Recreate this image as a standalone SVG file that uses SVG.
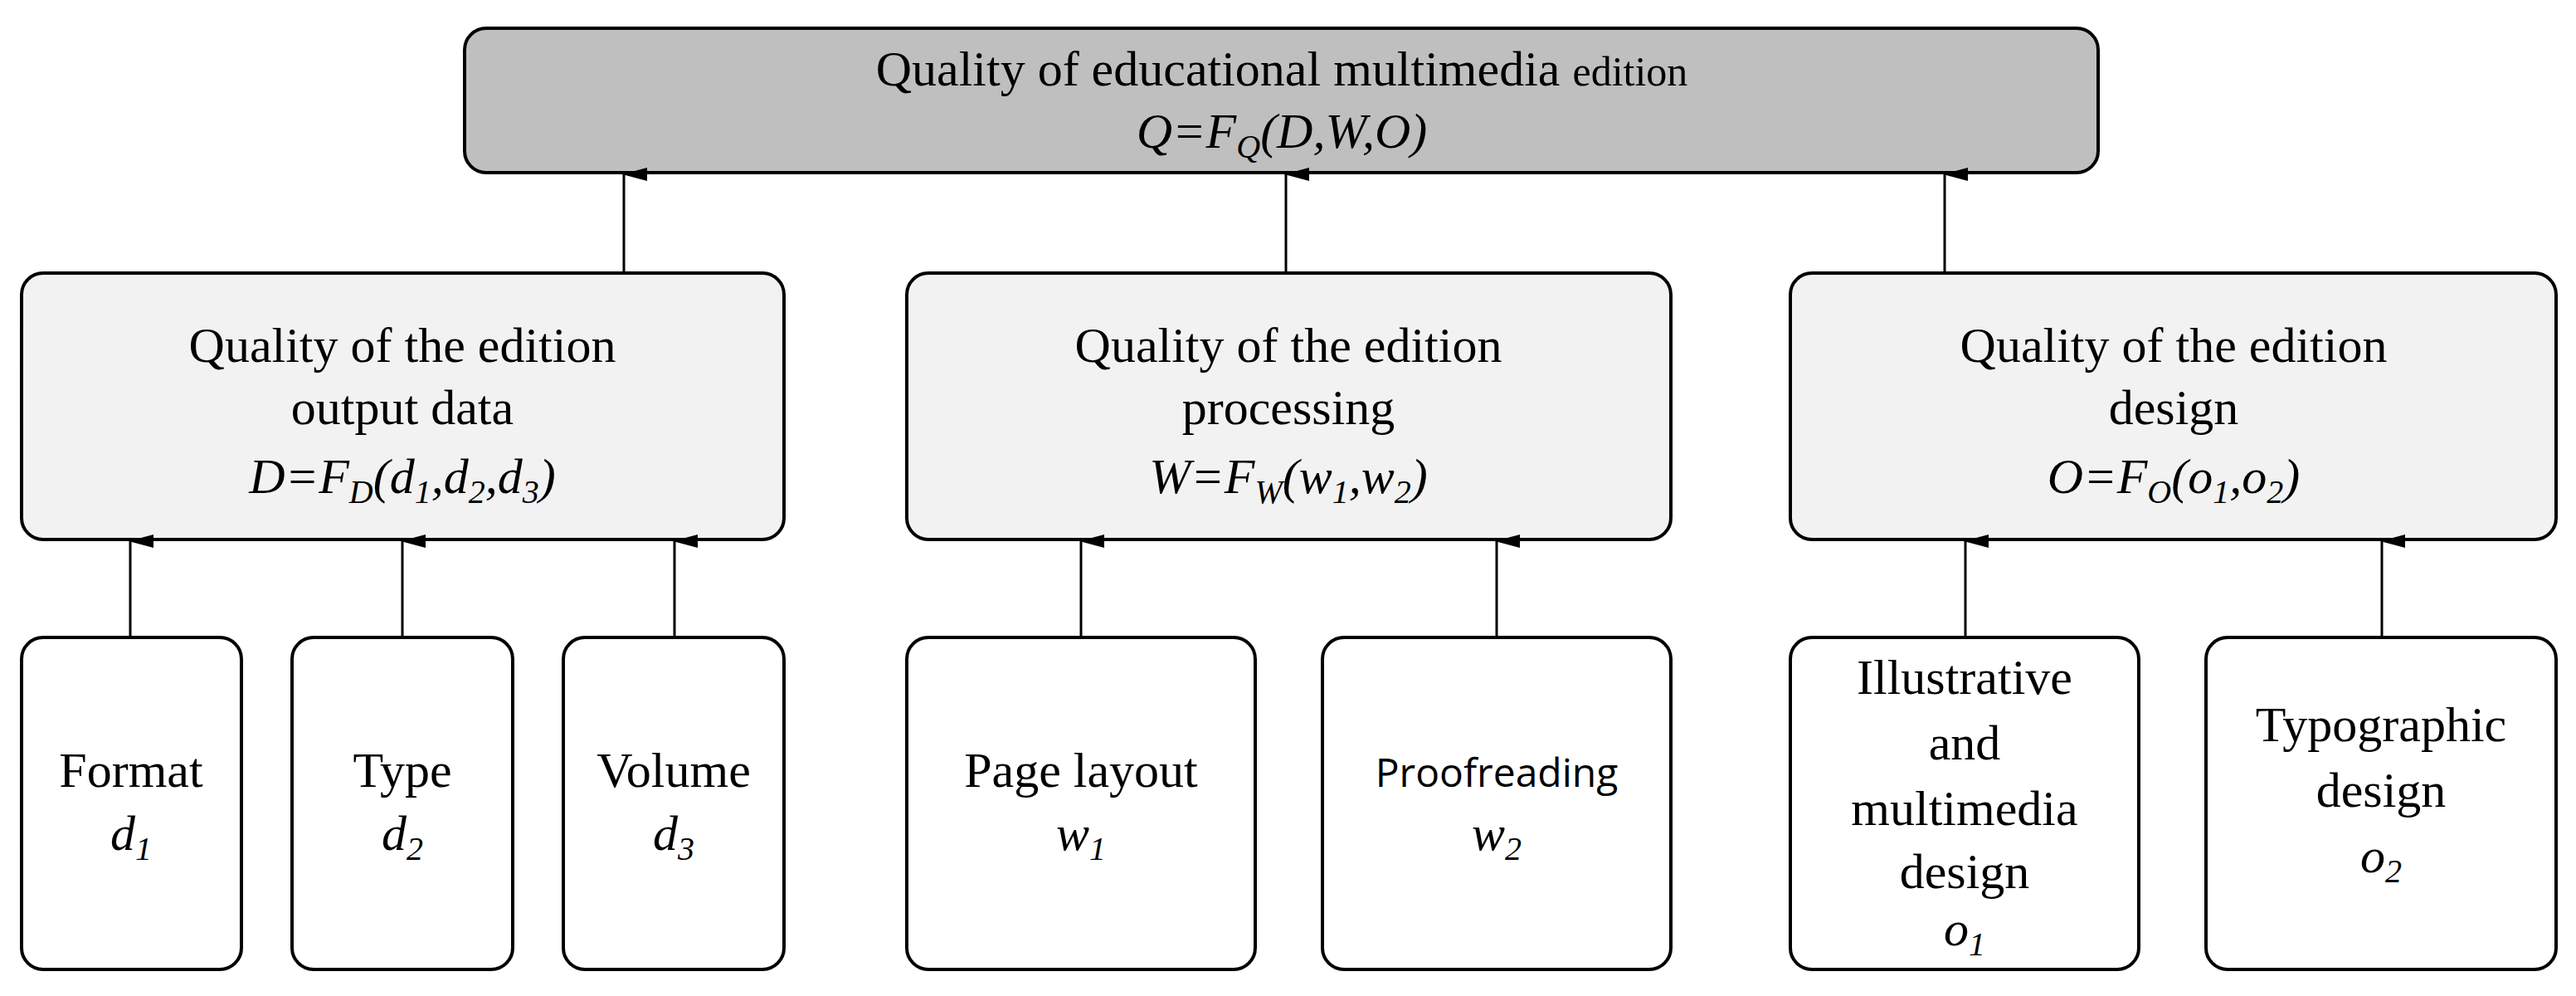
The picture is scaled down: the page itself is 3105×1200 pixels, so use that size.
<svg xmlns="http://www.w3.org/2000/svg" width="3105" height="1200" viewBox="0 0 3105 1200">
<style>
.b{stroke:#000;stroke-width:4}
.t{font-family:"Liberation Serif","DejaVu Serif",serif;font-size:60px;text-anchor:middle;fill:#000}
.i{font-style:italic}
.s{font-size:40px}
.c{stroke:#000;stroke-width:3;fill:none;marker-end:url(#a)}
</style>
<defs><marker id="a" markerWidth="16" markerHeight="30" refX="8" refY="2" orient="auto-start-reverse" markerUnits="userSpaceOnUse" viewBox="0 0 16 30"><path d="M8 0L16 30H0Z" fill="#000"/></marker></defs>
<rect width="3105" height="1200" fill="#fff"/>
<g id="q"><rect class="b" x="560" y="34" width="1969" height="174" rx="26" fill="#bfbfbf"/>
<text class="t" x="1545" y="103">Quality of educational multimedia <tspan font-size="50">edition</tspan></text>
<text class="t i" x="1545" y="178">Q=F<tspan class="s" dy="12">Q</tspan><tspan dy="-12">(D,W,O)</tspan></text></g>
<g id="d"><rect class="b" x="26" y="329" width="919" height="321" rx="26" fill="#f2f2f2"/>
<text class="t" x="485" y="436">Quality of the edition</text><text class="t" x="485" y="511">output data</text>
<text class="t i" x="485" y="594">D=F<tspan class="s" dy="12">D</tspan><tspan dy="-12">(d</tspan><tspan class="s" dy="12">1</tspan><tspan dy="-12">,d</tspan><tspan class="s" dy="12">2</tspan><tspan dy="-12">,d</tspan><tspan class="s" dy="12">3</tspan><tspan dy="-12">)</tspan></text></g>
<g id="w"><rect class="b" x="1093" y="329" width="921" height="321" rx="26" fill="#f2f2f2"/>
<text class="t" x="1553" y="436">Quality of the edition</text><text class="t" x="1553" y="511">processing</text>
<text class="t i" x="1553" y="594">W=F<tspan class="s" dy="12">W</tspan><tspan dy="-12">(w</tspan><tspan class="s" dy="12">1</tspan><tspan dy="-12">,w</tspan><tspan class="s" dy="12">2</tspan><tspan dy="-12">)</tspan></text></g>
<g id="o"><rect class="b" x="2158" y="329" width="923" height="321" rx="26" fill="#f2f2f2"/>
<text class="t" x="2620" y="436">Quality of the edition</text><text class="t" x="2620" y="511">design</text>
<text class="t i" x="2620" y="594">O=F<tspan class="s" dy="12">O</tspan><tspan dy="-12">(o</tspan><tspan class="s" dy="12">1</tspan><tspan dy="-12">,o</tspan><tspan class="s" dy="12">2</tspan><tspan dy="-12">)</tspan></text></g>
<g id="d1"><rect class="b" x="26" y="768" width="265" height="400" rx="26" fill="#fff"/><text class="t" x="158" y="948">Format</text><text class="t i" x="158" y="1024">d<tspan class="s" dy="12">1</tspan></text></g>
<g id="d2"><rect class="b" x="352" y="768" width="266" height="400" rx="26" fill="#fff"/><text class="t" x="485" y="948">Type</text><text class="t i" x="485" y="1024">d<tspan class="s" dy="12">2</tspan></text></g>
<g id="d3"><rect class="b" x="679" y="768" width="266" height="400" rx="26" fill="#fff"/><text class="t" x="812" y="948">Volume</text><text class="t i" x="812" y="1024">d<tspan class="s" dy="12">3</tspan></text></g>
<g id="w1"><rect class="b" x="1093" y="768" width="420" height="400" rx="26" fill="#fff"/><text class="t" x="1303" y="948">Page layout</text><text class="t i" x="1303" y="1024">w<tspan class="s" dy="12">1</tspan></text></g>
<g id="w2"><rect class="b" x="1594" y="768" width="420" height="400" rx="26" fill="#fff"/><text class="t" x="1804" y="948" style="font-family:'Open Sans','Liberation Sans',sans-serif;font-size:48px">Proofreading</text><text class="t i" x="1804" y="1024">w<tspan class="s" dy="12">2</tspan></text></g>
<g id="o1"><rect class="b" x="2158" y="768" width="420" height="400" rx="26" fill="#fff"/><text class="t" x="2368" y="836">Illustrative</text><text class="t" x="2368" y="915">and</text><text class="t" x="2368" y="994">multimedia</text><text class="t" x="2368" y="1070">design</text><text class="t i" x="2368" y="1139">o<tspan class="s" dy="12">1</tspan></text></g>
<g id="o2"><rect class="b" x="2659" y="768" width="422" height="400" rx="26" fill="#fff"/><text class="t" x="2870" y="893">Typographic</text><text class="t" x="2870" y="972">design</text><text class="t i" x="2870" y="1051">o<tspan class="s" dy="12">2</tspan></text></g>
<g id="connectors">
<path class="c" d="M752 329V210"/><path class="c" d="M1550 329V210"/><path class="c" d="M2344 329V210"/>
<path class="c" d="M157 768V652"/><path class="c" d="M485 768V652"/><path class="c" d="M813 768V652"/>
<path class="c" d="M1303 768V652"/><path class="c" d="M1804 768V652"/>
<path class="c" d="M2369 768V652"/><path class="c" d="M2871 768V652"/>
</g>
</svg>
